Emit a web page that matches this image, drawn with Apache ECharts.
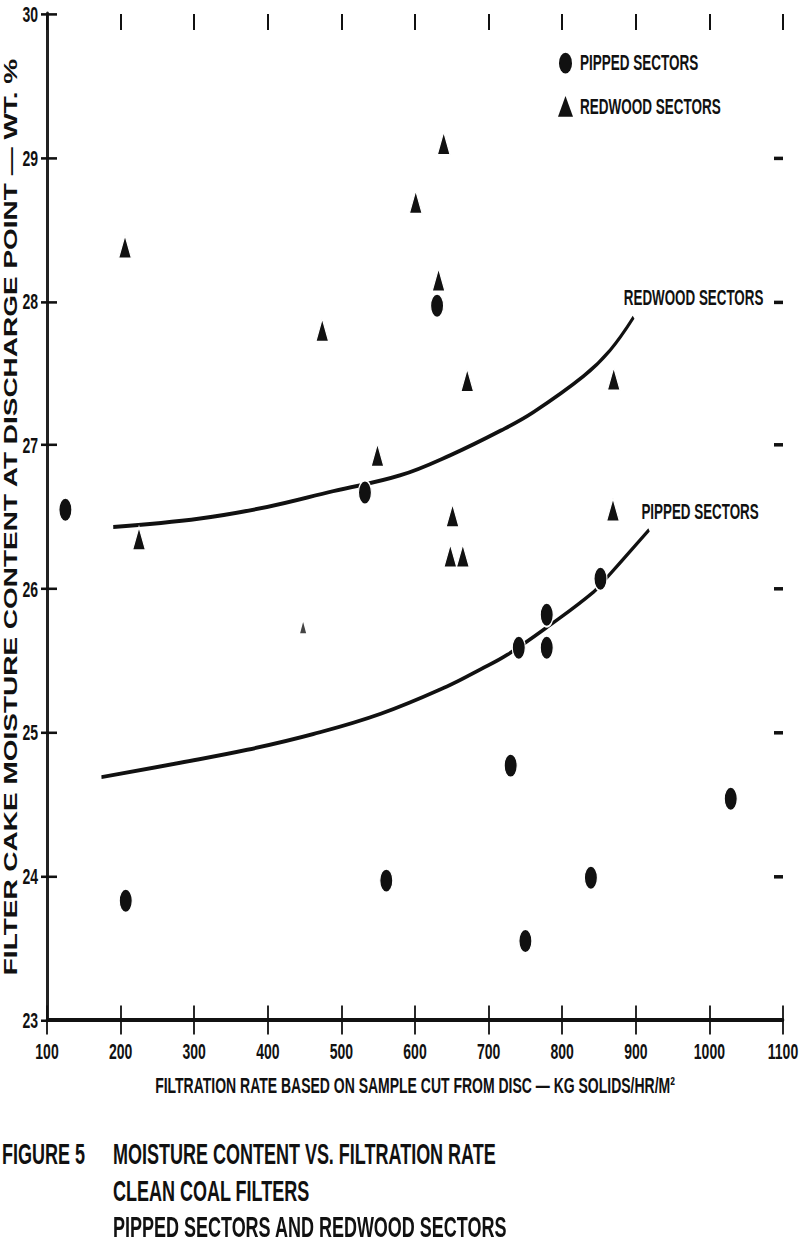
<!DOCTYPE html>
<html><head><meta charset="utf-8">
<script src="https://cdn.jsdelivr.net/npm/echarts@6/dist/echarts.min.js"></script>
<style>
html,body{margin:0;padding:0;background:#fff;width:800px;height:1246px;}
#wrap{position:relative;width:800px;height:1246px;overflow:hidden;}
#c{position:absolute;left:0;top:0;width:800px;height:778.75px;transform:scaleY(1.6);transform-origin:0 0;}
</style></head><body><div id="wrap"><div id="c"></div></div>
<script>
// ---- data ----
const pippedPoints = [
  [125, 26.55], [532, 26.67], [630, 27.97], [741, 25.59], [779, 25.82], [779, 25.59],
  [852, 26.07], [730, 24.77], [1029, 24.54], [839, 23.99], [561, 23.97], [207, 23.83], [750, 23.55]
];
const redwoodPoints = [
  [206, 28.38], [225, 26.35], [474, 27.80], [549, 26.93], [601, 28.69], [632, 28.15],
  [639, 29.10], [651, 26.51], [648, 26.23], [665, 26.23], [671, 27.45], [870, 27.46], [869, 26.55]
];
const redwoodFaint = [[448, 25.73]];
const redwoodCurve = [
  [190, 26.43], [308, 26.49], [399, 26.57], [489, 26.68], [580, 26.79], [648, 26.93],
  [716, 27.10], [761, 27.23], [829, 27.48], [865, 27.66], [897, 27.89]
];
const pippedCurve = [
  [174, 24.69], [281, 24.79], [372, 24.88], [462, 24.99], [553, 25.13], [643, 25.32],
  [689, 25.44], [725, 25.54], [784, 25.75], [843, 25.98], [861, 26.08], [918, 26.41]
];
const xRange = [100, 1100, 100];
const yRange = [23, 30, 1];
const rightTickValues = [24, 25, 26, 27, 28, 29];
const seriesNames = ['PIPPED SECTORS', 'REDWOOD SECTORS'];
const curveLabels = ['REDWOOD SECTORS', 'PIPPED SECTORS'];
const xAxisTitle = 'FILTRATION RATE BASED ON SAMPLE CUT FROM DISC — KG SOLIDS/HR/M²';
const yAxisTitle = 'FILTER CAKE MOISTURE CONTENT AT DISCHARGE POINT — WT. %';
const figureLabel = 'FIGURE 5';
const figureTitleLines = ['MOISTURE CONTENT VS. FILTRATION RATE', 'CLEAN COAL FILTERS', 'PIPPED SECTORS AND REDWOOD SECTORS'];

// ---- chart ----
const FONT = '"Liberation Sans", Arial, Helvetica, sans-serif';
const INK = '#111';
const ELLIPSE = 'path://M50,0 A50,50 0 1,1 50,100 A50,50 0 1,1 50,0 Z';

const baseX = { type: 'value', min: xRange[0], max: xRange[1], interval: xRange[2], splitLine: { show: false }, nameMoveOverlap: false };
const baseY = { type: 'value', min: yRange[0], max: yRange[1], interval: yRange[2], splitLine: { show: false }, nameMoveOverlap: false };

const chart = echarts.init(document.getElementById('c'), null, { renderer: 'svg', width: 800, height: 778.75 });

const option = {
  backgroundColor: '#fff',
  animation: false,
  textStyle: { fontFamily: FONT },
  title: [
    { text: figureLabel, left: 2, top: 709.5, padding: 0,
      textStyle: { fontFamily: FONT, fontWeight: 'bold', fontSize: 18, lineHeight: 23, color: INK } },
    { text: figureTitleLines.join('\n'), left: 113, top: 709.5, padding: 0,
      textStyle: { fontFamily: FONT, fontWeight: 'bold', fontSize: 18, lineHeight: 23, color: INK } }
  ],
  legend: {
    orient: 'vertical', left: 553, top: 27.5, itemWidth: 15, itemHeight: 13, itemGap: 13,
    data: [{ name: seriesNames[0], icon: ELLIPSE }, { name: seriesNames[1], icon: 'triangle' }],
    itemStyle: { borderWidth: 0 },
    textStyle: { fontFamily: FONT, fontWeight: 'bold', fontSize: 13.5, lineHeight: 14, color: INK, padding: [0, 0, 0, 2] },
    selectedMode: false
  },
  grid: { left: 47, right: 17, top: 8.75, bottom: 141.25, containLabel: false, outerBoundsMode: 'none' },
  xAxis: [
    Object.assign({}, baseX, {
      position: 'bottom',
      axisLine: { show: true, onZero: false, lineStyle: { color: INK, width: 2.5 } },
      axisTick: { show: true, inside: false, length: 9, lineStyle: { color: INK, width: 1.8 } },
      axisLabel: { margin: 12.5, fontFamily: FONT, fontWeight: 'bold', fontSize: 14, color: INK, formatter: v => String(v) },
      name: xAxisTitle, nameLocation: 'middle', nameGap: 34,
      nameTextStyle: { fontFamily: FONT, fontWeight: 'bold', fontSize: 14, color: INK }
    }),
    Object.assign({}, baseX, {
      position: 'bottom',
      axisLine: { show: false, onZero: false },
      axisTick: { show: true, inside: true, length: 9, lineStyle: { color: INK, width: 1.8 } },
      axisLabel: { show: false }
    }),
    Object.assign({}, baseX, {
      position: 'top',
      axisLine: { show: false, onZero: false },
      axisTick: { show: true, inside: true, length: 10, lineStyle: { color: INK, width: 2 } },
      axisLabel: { show: false }
    })
  ],
  yAxis: [
    Object.assign({}, baseY, {
      position: 'left',
      axisLine: { show: true, onZero: false, lineStyle: { color: '#222', width: 3 } },
      axisTick: { show: true, inside: false, length: 6, lineStyle: { color: INK, width: 1.6 } },
      axisLabel: { margin: 9, fontFamily: FONT, fontWeight: 'bold', fontSize: 14, color: INK },
      name: yAxisTitle, nameLocation: 'middle', nameGap: 27, nameRotate: 90,
      nameTextStyle: { fontFamily: FONT, fontWeight: 'bold', fontSize: 17.5, color: INK }
    }),
    Object.assign({}, baseY, {
      position: 'left',
      axisLine: { show: false, onZero: false },
      axisTick: { show: true, inside: true, length: 10, lineStyle: { color: INK, width: 1.6 } },
      axisLabel: { show: false }
    }),
    Object.assign({}, baseY, {
      position: 'right',
      axisLine: { show: false, onZero: false },
      axisTick: { show: true, inside: true, length: 9, customValues: rightTickValues, lineStyle: { color: INK, width: 2.2 } },
      axisLabel: { show: false }
    })
  ],
  series: [
    {
      name: 'redwood-curve', type: 'line', data: redwoodCurve, smooth: 0.4, showSymbol: false, silent: true, z: 2,
      lineStyle: { color: INK, width: 2.5 },
      endLabel: { show: true, formatter: curveLabels[0], distance: 0, align: 'center', verticalAlign: 'middle', offset: [60, -12],
        fontFamily: FONT, fontWeight: 'bold', fontSize: 13.4, color: INK }
    },
    {
      name: 'pipped-curve', type: 'line', data: pippedCurve, smooth: 0.4, showSymbol: false, silent: true, z: 2,
      lineStyle: { color: INK, width: 2.5 },
      endLabel: { show: true, formatter: curveLabels[1], distance: 0, align: 'center', verticalAlign: 'middle', offset: [51, -11.3],
        fontFamily: FONT, fontWeight: 'bold', fontSize: 13.4, color: INK }
    },
    {
      name: seriesNames[0], type: 'scatter', data: pippedPoints, symbol: ELLIPSE, symbolSize: [13, 15], z: 3,
      itemStyle: { color: INK, borderColor: '#fff', borderWidth: 1.2, opacity: 1 }
    },
    {
      name: seriesNames[1], type: 'scatter', data: redwoodPoints, symbol: 'triangle', symbolSize: [13, 14.5], z: 3,
      itemStyle: { color: INK, borderColor: '#fff', borderWidth: 1.2, opacity: 1 }
    },
    {
      name: seriesNames[1], type: 'scatter', data: redwoodFaint, symbol: 'triangle', symbolSize: [6, 7], z: 3,
      itemStyle: { color: '#444', opacity: 1 }
    }
  ]
};
chart.setOption(option);
</script>
</body></html>
